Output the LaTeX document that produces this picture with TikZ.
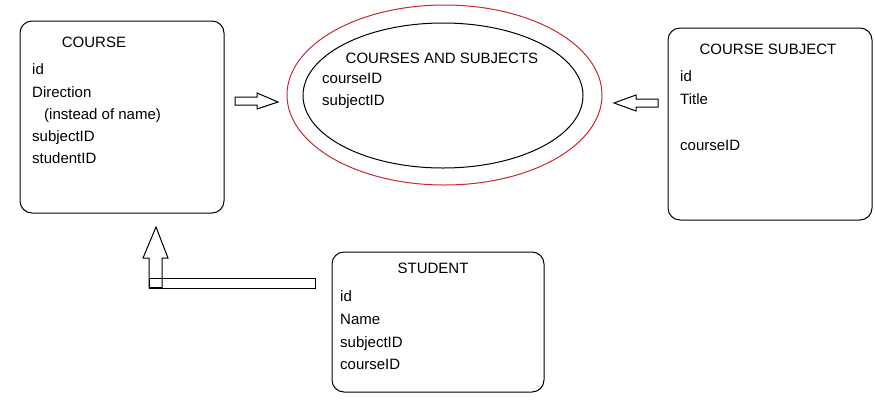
\documentclass[tikz,border=0pt]{standalone}
\usepackage{fontspec}
\setmainfont{Liberation Sans}
\usepackage{tikz}
\usetikzlibrary{shapes.geometric,positioning}

\definecolor{ringred}{RGB}{200,40,50}

\tikzset{
  tablebox/.style={draw, rounded corners=12pt, line width=1pt, inner sep=0pt},
  field/.style={anchor=base west, inner sep=0pt, font=\fontsize{15}{18}\selectfont},
  heading/.style={anchor=base, inner sep=0pt, font=\fontsize{15}{18}\selectfont},
  blockarrow/.style={draw, line width=1pt, fill=white}
}

\begin{document}
\begin{tikzpicture}[x=1pt, y=-1pt]
  \useasboundingbox (0,0) rectangle (875,400);

  % course table
  \node[tablebox, minimum width=204pt, minimum height=192pt] (course) at (122,117) {};
  \node[heading] (course-title) at (94,47) {COURSE};
  \node[field] (course-id) at (32,74) {id};
  \node[field] (course-dir) at (32,97) {Direction};
  \node[field] (course-note) at (44,119) {(instead of name)};
  \node[field] (course-subj) at (32,141) {subjectID};
  \node[field] (course-stud) at (32,163) {studentID};

  % link table
  \node[draw=ringred, ellipse, line width=1pt, minimum width=315pt, minimum height=180pt] (outer) at (444.5,95) {};
  \node[draw, ellipse, line width=1pt, minimum width=280pt, minimum height=145pt] (inner) at (443,95.5) {};
  \node[heading] (link-title) at (442,63) {COURSES AND SUBJECTS};
  \node[field] (link-course) at (322,83) {courseID};
  \node[field] (link-subj) at (322,105) {subjectID};

  % subject table
  \node[tablebox, minimum width=204pt, minimum height=192pt] (subject) at (770,124) {};
  \node[heading] (subject-title) at (768,54) {COURSE SUBJECT};
  \node[field] (subject-id) at (680,81) {id};
  \node[field] (subject-name) at (680,104) {Title};
  \node[field] (subject-course) at (680,150) {courseID};

  % student table
  \node[tablebox, minimum width=212pt, minimum height=140pt] (student) at (438,322) {};
  \node[heading] (student-title) at (433,273) {STUDENT};
  \node[field] (student-id) at (340,301) {id};
  \node[field] (student-name) at (340,324) {Name};
  \node[field] (student-subj) at (340,347) {subjectID};
  \node[field] (student-course) at (340,369) {courseID};

  % block arrows
  \draw[blockarrow] (235,97) -- (257,97) -- (257,93) -- (278,102) -- (257,109) -- (257,105) -- (235,105) -- cycle;
  \draw[blockarrow] (658,99) -- (636,99) -- (636,95) -- (614,103) -- (636,111) -- (636,107) -- (658,107) -- cycle;
  \draw[blockarrow] (149,288) -- (149,258) -- (143,258) -- (156,227) -- (168,258) -- (162,258) -- (162,288) -- cycle;
  \draw[line width=1pt] (149,278) rectangle (315,288);
  \draw[line width=2pt] (149,288) -- (162,288);
\end{tikzpicture}
\end{document}
